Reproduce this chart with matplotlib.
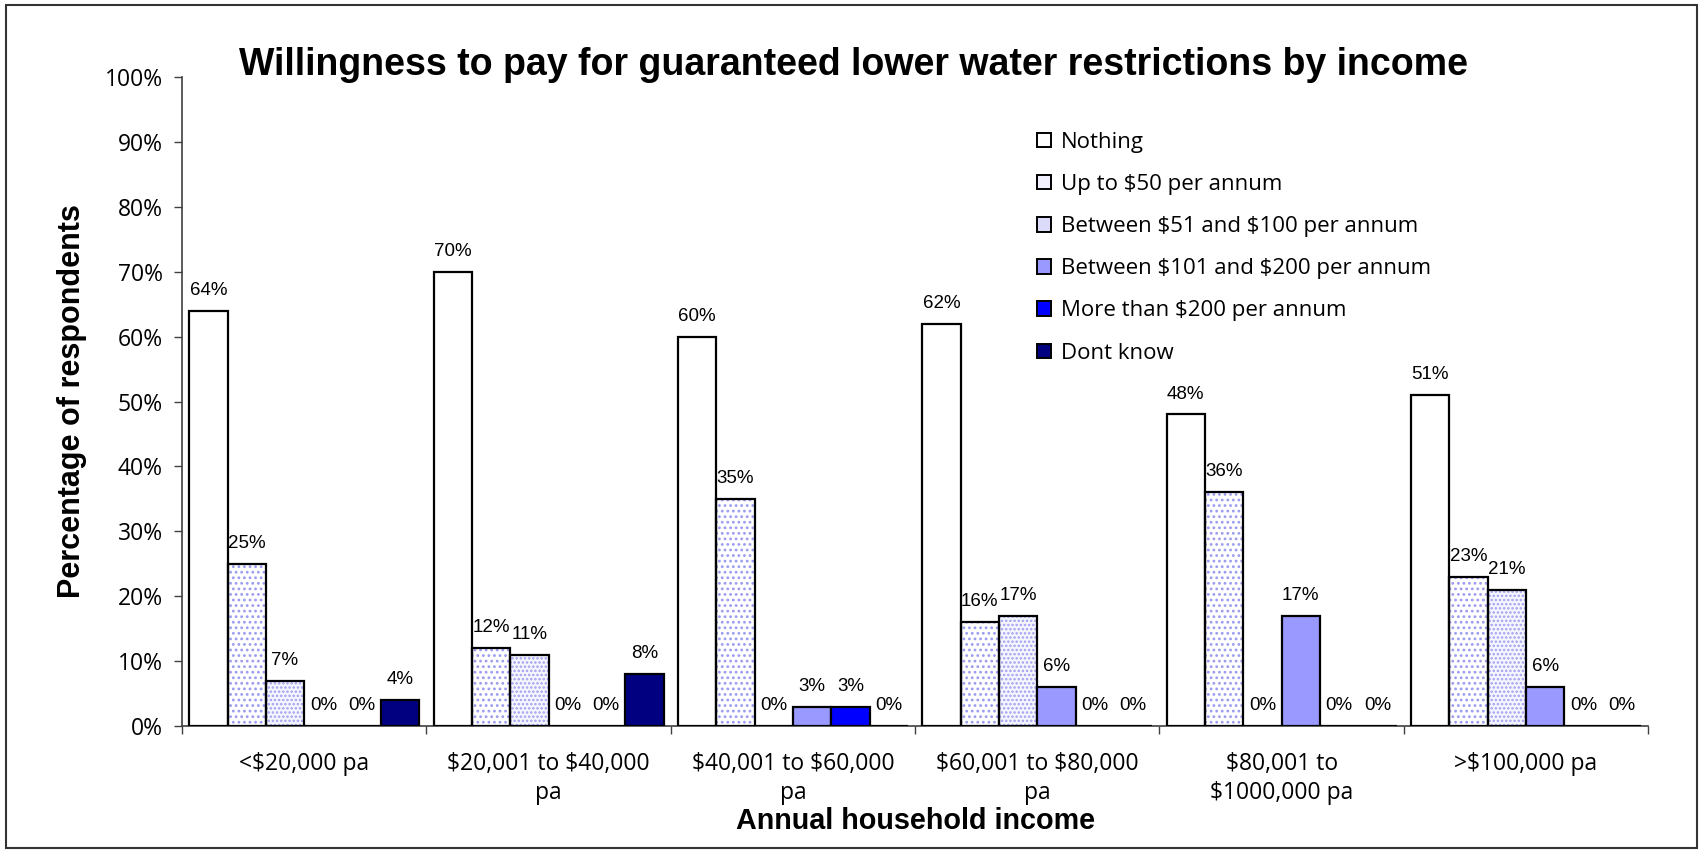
import matplotlib
matplotlib.use("Agg")
import matplotlib.pyplot as plt
from matplotlib.patches import Patch, Rectangle
import numpy as np

# Income groups (x categories)
income_groups = [
    "<$20,000 pa",
    "$20,001 to $40,000\npa",
    "$40,001 to $60,000\npa",
    "$60,001 to $80,000\npa",
    "$80,001 to\n$1000,000 pa",
    ">$100,000 pa",
]

# Response options (series)
responses = [
    "Nothing",
    "Up to $50 per annum",
    "Between $51 and $100 per annum",
    "Between $101 and $200 per annum",
    "More than $200 per annum",
    "Dont know",
]

# Percentage of respondents, one list per response option (across income groups)
nothing = [64, 70, 60, 62, 48, 51]
up_to_50 = [25, 12, 35, 16, 36, 23]
between_51_100 = [7, 11, 0, 17, 0, 21]
between_101_200 = [0, 0, 3, 6, 17, 6]
more_than_200 = [0, 0, 3, 0, 0, 0]
dont_know = [4, 8, 0, 0, 0, 0]

series = [nothing, up_to_50, between_51_100, between_101_200, more_than_200, dont_know]

y_ticks = list(range(0, 101, 10))

# Bar styling per series: (facecolor, hatch, hatch colour, legend swatch colour)
styles = [
    ("white", None, None, "white"),
    ("white", "...", "#9A9AF0", "#F0F0FF"),
    ("#F6F6FF", "....", "#A0A0F0", "#DCDCFA"),
    ("#9999FF", None, None, "#9999FF"),
    ("#0000FF", None, None, "#0000FF"),
    ("#000080", None, None, "#000080"),
]

FONT_TEXT = ["Open Sans", "DejaVu Sans"]
FONT_LABEL = ["Liberation Sans", "DejaVu Sans"]
FONT_BOLD = ["Liberation Sans", "DejaVu Sans"]


def plain(s):
    """Escape dollar signs so they are drawn literally."""
    return s.replace("$", r"\$")


plt.rcParams["hatch.linewidth"] = 1.2

fig = plt.figure(figsize=(17, 8.51), dpi=100)
ax = fig.add_axes([0.1071, 0.1469, 0.8624, 0.7626])

n_groups = len(income_groups)
n_series = len(series)
width = 0.157
x = np.arange(n_groups)

for j, (vals, (fc, hatch, hc, _)) in enumerate(zip(series, styles)):
    pos = x + (j - (n_series - 1) / 2) * width
    if hatch:
        ax.bar(pos, vals, width=width, color=fc, hatch=hatch,
               edgecolor=hc, linewidth=0, zorder=2)
        ax.bar(pos, vals, width=width, fill=False, edgecolor="black",
               linewidth=1.6, zorder=3)
    else:
        ax.bar(pos, vals, width=width, color=fc, edgecolor="black",
               linewidth=1.6, zorder=3)
    for px, v in zip(pos, vals):
        ax.annotate(f"{v}%", (px, v), xytext=(0, 11.5), textcoords="offset points",
                    ha="center", va="baseline", fontsize=13.5,
                    family=FONT_LABEL, zorder=4)

ax.set_xlim(-0.5, n_groups - 0.5)
ax.set_ylim(0, 100)
ax.set_yticks(y_ticks)
ax.set_yticklabels([f"{t}%" for t in y_ticks], family=FONT_TEXT, fontsize=16.5)

ax.set_xticks(x)
ax.set_xticklabels([plain(g) for g in income_groups], family=FONT_TEXT,
                   fontsize=16.5, linespacing=1.25)
ax.set_xticks(np.arange(-0.5, n_groups), minor=True)
ax.tick_params(axis="x", which="major", length=0, pad=19)
ax.tick_params(axis="x", which="minor", length=6, width=1, color="#404040", direction="out")
ax.tick_params(axis="y", length=6, width=1, color="#404040", direction="out", pad=8)

for side in ("top", "right"):
    ax.spines[side].set_visible(False)
for side in ("left", "bottom"):
    ax.spines[side].set_color("#404040")
    ax.spines[side].set_linewidth(1.2)

ax.set_ylabel("Percentage of respondents", family=FONT_BOLD, fontsize=22,
              fontweight="bold", va="center")
ax.yaxis.set_label_coords(-0.075, 0.5)
ax.set_xlabel("Annual household income", family=FONT_BOLD, fontsize=20.7,
              fontweight="bold", va="center")
ax.xaxis.set_label_coords(0.5, -0.146)

fig.text(0.502, 1 - 75 / 851, "Willingness to pay for guaranteed lower water restrictions by income",
         ha="center", va="baseline", family=FONT_BOLD, fontsize=27, fontweight="bold")

handles = []
for lab, (_, _, _, swatch) in zip(responses, styles):
    handles.append(Patch(facecolor=swatch, edgecolor="black", linewidth=1.4,
                         label=plain(lab)))
leg = ax.legend(handles=handles, loc="upper left",
                bbox_to_anchor=(1037 / 1700, 1 - 132 / 851),
                bbox_transform=fig.transFigure, frameon=False,
                prop={"family": FONT_TEXT, "size": 16},
                handlelength=0.62, handleheight=0.62, handletextpad=0.45,
                labelspacing=0.95, borderpad=0, borderaxespad=0)

# Chart area border
fig.patches.append(Rectangle((6 / 1700, 3 / 851), 1691 / 1700, 843 / 851,
                             transform=fig.transFigure, fill=False,
                             edgecolor="#333333", linewidth=1.5))

fig.savefig("out.png", dpi=100)
